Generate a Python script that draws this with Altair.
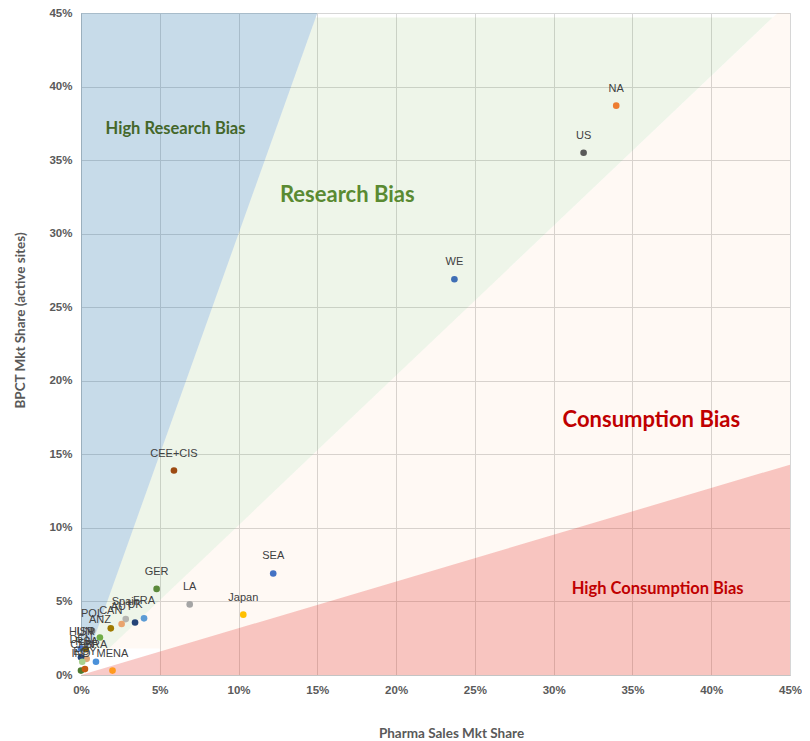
import altair as alt
import pandas as pd

# ---------------- data ----------------
names = ["NA", "US", "WE", "CEE+CIS", "SEA", "GER", "LA", "Japan", "FRA", "Spain", "UK",
         "AUT", "CAN", "ANZ", "POL", "MENA", "BRA", "RSA", "HUN", "ISR", "DEN", "CHN", "IND", "EGY"]
sales = [33.97, 31.9, 23.7, 5.9, 12.2, 4.8, 6.9, 10.3, 4.0, 2.84, 3.43,
         2.58, 1.89, 1.2, 0.7, 2.0, 0.95, 0.36, 0.0, 0.3, 0.0, 0.08, 0.0, 0.25]
bpct = [38.7, 35.5, 26.9, 13.9, 6.9, 5.85, 4.8, 4.1, 3.85, 3.8, 3.57,
        3.47, 3.17, 2.55, 3.0, 0.3, 0.9, 1.1, 1.8, 1.75, 1.2, 0.9, 0.3, 0.4]
colors = ["#ED7D31", "#595959", "#3F6EB5", "#9C4A12", "#4472C4", "#5B8A3A", "#A5A5A5", "#FFC000",
          "#5B9BD5", "#B4B4B0", "#264478", "#E9A46E", "#9E7A00", "#70AD47", "#7F7F7F", "#FF9A1F",
          "#4A90D9", "#E0A878", "#4472C4", "#7F6000", "#264478", "#A9D18E", "#4E7A2E", "#C55A11"]

# bias zones (x = sales share, lower / upper = BPCT share)
blue_x, blue_lo, blue_hi = [0, 15], [0, 45], [45, 45]
green_x, green_lo, green_hi = [0, 14.9, 43.9], [0, 15.17, 44.7], [0, 44.7, 44.7]
peach_x, peach_lo, peach_hi = [0, 45], [0, 0], [0, 45.8]
pink_x, pink_lo, pink_hi = [0, 45], [0, 0], [0, 14.3]
white_x, white_x2, white_y, white_y2 = [0], [5], [0], [1.8]

big_zone_names = ["Research Bias", "Consumption Bias"]
big_zone_x = [16.9, 36.2]
big_zone_y = [32.6, 17.35]
big_zone_col = ["#5A8A32", "#C00000"]
small_zone_names = ["High Research Bias", "High Consumption Bias"]
small_zone_x = [6.0, 36.6]
small_zone_y = [37.1, 5.85]
small_zone_col = ["#44672A", "#C00000"]

ticks = [0, 5, 10, 15, 20, 25, 30, 35, 40, 45]

# ---------------- encodings ----------------
sx = alt.Scale(domain=[0, 45], nice=False, zero=False)
sy = alt.Scale(domain=[0, 45], nice=False, zero=False)

axis_common = dict(values=ticks, labelExpr="datum.value + '%'", grid=True, gridColor="#D6D6D6",
                   domainColor="#C4C4C4", ticks=False, labelFlush=False, labelFont="Liberation Sans",
                   labelFontWeight="bold", labelFontSize=11.5, labelColor="#5A5A5A",
                   titleFont="Lato", titleFontSize=13.5, titleFontWeight="bold", titleColor="#595959",
                   titleBaseline="middle", titleAlign="center")
xaxis = alt.Axis(labelPadding=9, titleX=370, titleY=58, **axis_common)
yaxis = alt.Axis(labelPadding=9, titleX=-61, titleY=307, titleAngle=270, **axis_common)

XT = "Pharma Sales Mkt Share"
YT = "BPCT Mkt Share (active sites)"


def X(f):
    return alt.X(f, type="quantitative", scale=sx, axis=xaxis, title=XT)


def Y(f):
    return alt.Y(f, type="quantitative", scale=sy, axis=yaxis, title=YT)


def zone(xs, lo, hi, color, op):
    d = pd.DataFrame({"x": xs, "lo": lo, "hi": hi})
    return alt.Chart(d).mark_area(color=color, opacity=op, clip=True, interpolate="linear").encode(
        x=X("x"), y=Y("lo"), y2=alt.Y2("hi"))


peach = zone(peach_x, peach_lo, peach_hi, "#F79646", 0.06)
green = zone(green_x, green_lo, green_hi, "#70AD47", 0.12)
blue = zone(blue_x, blue_lo, blue_hi, "#1F6EA8", 0.25)
white = alt.Chart(pd.DataFrame({"x": white_x, "x2": white_x2, "y": white_y, "y2": white_y2})).mark_rect(
    color="white", opacity=1).encode(x=X("x"), x2=alt.X2("x2"), y=Y("y"), y2=alt.Y2("y2"))
pink = zone(pink_x, pink_lo, pink_hi, "#E63C32", 0.27)

df = pd.DataFrame({"name": names, "sales": sales, "bpct": bpct, "color": colors})
pts = alt.Chart(df).mark_circle(size=44, opacity=1).encode(
    x=X("sales"), y=Y("bpct"), color=alt.Color("color:N", scale=None))
lbl = alt.Chart(df).mark_text(font="Liberation Sans", fontSize=11, color="#404040",
                              baseline="middle", align="center", dy=-17).encode(
    x=X("sales"), y=Y("bpct"), text="name:N")

big = alt.Chart(pd.DataFrame({"t": big_zone_names, "x": big_zone_x, "y": big_zone_y, "c": big_zone_col})).mark_text(
    font="Lato", fontSize=22, fontWeight="bold", baseline="middle", align="center").encode(
    x=X("x"), y=Y("y"), text="t:N", color=alt.Color("c:N", scale=None))
small = alt.Chart(pd.DataFrame({"t": small_zone_names, "x": small_zone_x, "y": small_zone_y, "c": small_zone_col})).mark_text(
    font="Lato", fontSize=16.5, fontWeight="bold", baseline="middle", align="center").encode(
    x=X("x"), y=Y("y"), text="t:N", color=alt.Color("c:N", scale=None))

chart = alt.layer(peach, green, blue, white, pink, pts, lbl, big, small).properties(
    width=709, height=662,
    autosize=alt.AutoSizeParams(type="none"),
    padding={"left": 73, "top": 5, "right": 12, "bottom": 70},
).configure_view(stroke="#D0D0D0", strokeWidth=1)

chart.save("out.html", embed_options={"renderer": "svg", "actions": False})
